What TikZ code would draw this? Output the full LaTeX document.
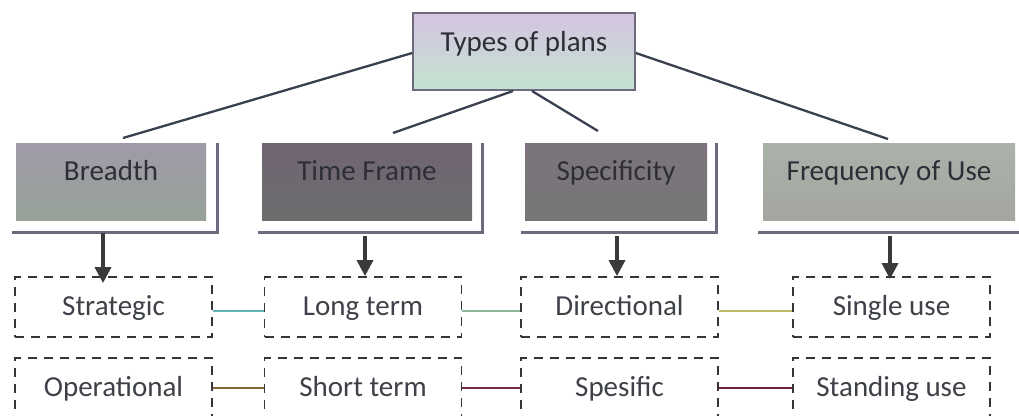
\documentclass[tikz,border=0pt]{standalone}
\usepackage{fontspec}
\setmainfont{Carlito}
\usetikzlibrary{arrows.meta}

\definecolor{inkdark}{HTML}{2E2E36}
\definecolor{labelgray}{HTML}{3E4148}
\definecolor{linkline}{HTML}{394050}
\definecolor{shadowline}{HTML}{6C6A7C}
\definecolor{arrowgray}{HTML}{3A3A3C}
\definecolor{dashgray}{HTML}{35353A}

\begin{document}
\begin{tikzpicture}[x=1pt,y=-1pt,
  font=\fontsize{29}{34}\selectfont,
  rootbox/.style={draw=shadowline, line width=1.6pt, inner sep=0pt,
    minimum width=222pt, minimum height=77pt,
    text height=18pt, text depth=18pt, text=inkdark},
  catbox/.style={inner sep=0pt, minimum height=77pt,
    text height=19pt, text depth=22pt, text=inkdark},
  itembox/.style={draw=dashgray, line width=1.8pt,
    dash pattern=on 9pt off 7pt, inner sep=0pt,
    minimum width=197pt, minimum height=60pt,
    text height=19pt, text depth=3pt, text=labelgray},
  link/.style={draw=linkline, line width=2.3pt},
  frame/.style={draw=shadowline, line width=2.6pt},
  down/.style={draw=arrowgray, line width=3.4pt,
    -{Triangle[width=16pt,length=16pt]}},
  peer/.style={line width=2pt}
]
\clip (0,0) rectangle (1019,415);
\fill[white] (0,0) rectangle (1019,415);

% root of the tree
\node[rootbox, top color={rgb,255:red,214;green,196;blue,226},
      bottom color={rgb,255:red,194;green,228;blue,208}]
  (plans) at (524,51.5) {Types of plans};

% four classification boxes
\node[catbox, minimum width=190pt,
      top color={rgb,255:red,160;green,154;blue,168},
      bottom color={rgb,255:red,150;green,162;blue,152}]
  (breadth) at (111,181.5) {Breadth};
\node[catbox, minimum width=210pt,
      top color={rgb,255:red,112;green,100;blue,114},
      bottom color={rgb,255:red,108;green,110;blue,110}]
  (timeframe) at (367,181.5) {Time Frame};
\node[catbox, minimum width=182pt,
      top color={rgb,255:red,124;green,116;blue,124},
      bottom color={rgb,255:red,118;green,118;blue,120}]
  (specificity) at (616,181.5) {Specificity};
\node[catbox, minimum width=252pt,
      top color={rgb,255:red,170;green,178;blue,170},
      bottom color={rgb,255:red,164;green,166;blue,160}]
  (frequency) at (889,181.5) {Frequency of Use};

% offset frames behind the classification boxes
\draw[frame] ([xshift=-4pt,yshift=-12pt]breadth.south west) -- ([xshift=11pt,yshift=-12pt]breadth.south east) -- ([xshift=11pt]breadth.north east);
\draw[frame] ([xshift=-4pt,yshift=-12pt]timeframe.south west) -- ([xshift=10pt,yshift=-12pt]timeframe.south east) -- ([xshift=10pt]timeframe.north east);
\draw[frame] ([xshift=-4pt,yshift=-12pt]specificity.south west) -- ([xshift=9pt,yshift=-12pt]specificity.south east) -- ([xshift=9pt]specificity.north east);
\draw[frame] ([xshift=-5pt,yshift=-12pt]frequency.south west) -- ([xshift=10pt,yshift=-12pt]frequency.south east) -- ([xshift=10pt]frequency.north east);

% plan types
\node[itembox] (strategic)   at (113.5,307) {Strategic};
\node[itembox] (longterm)    at (363,307)   {Long term};
\node[itembox] (directional) at (619.5,307) {Directional};
\node[itembox] (singleuse)   at (891.5,307) {Single use};
\node[itembox] (operational) at (113.5,388) {Operational};
\node[itembox] (shortterm)   at (363,388)   {Short term};
\node[itembox] (spesific)    at (619.5,388) {Spesific};
\node[itembox] (standing)    at (891.5,388) {Standing use};

% free ends of the lines leaving the root
\coordinate (toBreadth) at (123,138);
\coordinate (toTime)    at (393,133);
\coordinate (toSpec)    at (598,131);
\coordinate (toFreq)    at (888,139);
\coordinate (rootLowL)  at (513,91);
\coordinate (rootLowR)  at (532,91);

\draw[link] ([yshift=-1.5pt]plans.west) -- (toBreadth);
\draw[link] ([yshift=-1.5pt]plans.east) -- (toFreq);
\draw[link] (rootLowL) -- (toTime);
\draw[link] (rootLowR) -- (toSpec);

% arrows down to the first row
\draw[down] ([xshift=-8pt,yshift=-13pt]breadth.south) -- ([xshift=-8pt,yshift=-7pt]breadth.south |- strategic.north);
\draw[down] ([xshift=-2pt,yshift=-16pt]timeframe.south) -- ([xshift=-2pt]timeframe.south |- longterm.north);
\draw[down] ([xshift=1pt,yshift=-16pt]specificity.south) -- ([xshift=1pt]specificity.south |- directional.north);
\draw[down] ([xshift=1pt,yshift=-16pt]frequency.south) -- ([xshift=1pt,yshift=-3pt]frequency.south |- singleuse.north);

% links between neighbouring plan types
\draw[peer, draw={rgb,255:red,96;green,180;blue,184}] ([yshift=-4pt]strategic.east) -- ([yshift=-4pt]longterm.west);
\draw[peer, draw={rgb,255:red,140;green,184;blue,150}] ([yshift=-4pt]longterm.east) -- ([yshift=-4pt]directional.west);
\draw[peer, draw={rgb,255:red,186;green,186;blue,100}] ([yshift=-4pt]directional.east) -- ([yshift=-4pt]singleuse.west);
\draw[peer, draw={rgb,255:red,132;green,104;blue,52}] (operational.east) -- (shortterm.west);
\draw[peer, draw={rgb,255:red,120;green,46;blue,62}] (shortterm.east) -- (spesific.west);
\draw[peer, draw={rgb,255:red,106;green,34;blue,50}] (spesific.east) -- (standing.west);
\end{tikzpicture}
\end{document}
